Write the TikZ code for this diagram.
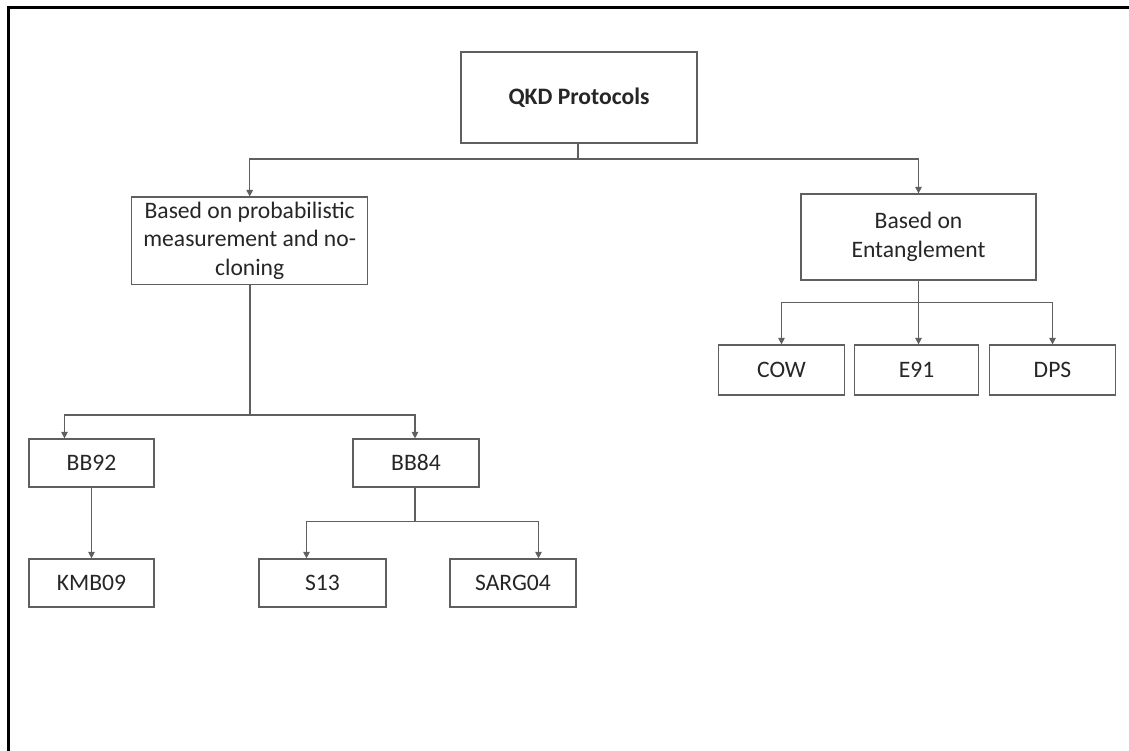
\documentclass[tikz,border=0pt]{standalone}
\usepackage{fontspec}
\setmainfont{Carlito}
\usetikzlibrary{arrows.meta}

\definecolor{linegray}{RGB}{95,95,95}
\definecolor{textgray}{RGB}{38,38,38}

\tikzset{
  box/.style={draw=linegray, line width=1.2pt, rectangle, inner sep=0pt,
    align=center, text=textgray,
    font=\fontsize{23.6}{28.4}\selectfont},
  link/.style={draw=linegray, line width=1.2pt},
  arr/.style={link, -{Triangle[width=6.5pt,length=6.5pt]}},
  frame/.style={draw=black, line width=3pt},
}

\begin{document}
\begin{tikzpicture}[x=1pt,y=-1pt]
  \useasboundingbox (0,0) rectangle (1129,751);

  % page frame (left and top edges)
  \draw[frame] (8,751) -- (8,7.5) -- (1129,7.5);

  % root
  \node[box, minimum width=236pt, minimum height=91pt] (qkd) at (579,97.5)
    {\bfseries QKD Protocols};

  % first level
  \node[box, minimum width=236pt, minimum height=87pt] (prob) at (249.7,240.6)
    {Based on probabilistic\\measurement and no-\\cloning};
  \node[box, minimum width=235pt, minimum height=86pt] (ent) at (918.5,237)
    {Based on\\Entanglement};

  % entanglement family
  \node[box, minimum width=126pt, minimum height=50pt] (cow) at (781.5,370) {COW};
  \node[box, minimum width=124pt, minimum height=50pt] (e91) at (916.5,370) {E91};
  \node[box, minimum width=126pt, minimum height=50pt] (dps) at (1052.5,370) {DPS};

  % probabilistic family
  \node[box, minimum width=125pt, minimum height=48pt] (bb92) at (91.5,463) {BB92};
  \node[box, minimum width=126pt, minimum height=48pt] (bb84) at (416,463) {BB84};
  \node[box, minimum width=125pt, minimum height=48pt] (kmb) at (91.5,583) {KMB09};
  \node[box, minimum width=127pt, minimum height=48pt] (s13) at (322.5,583) {S13};
  \node[box, minimum width=126pt, minimum height=48pt] (sarg) at (513,583) {SARG04};

  % junction points
  \coordinate (j1) at (578,159);
  \coordinate (j2) at (250,415);
  \coordinate (j3) at (415,521.7);
  \coordinate (j4) at (918.5,302.7);

  % root branches
  \draw[link] (qkd.south -| j1) -- (j1);
  \draw[arr] (j1) -| (prob.north);
  \draw[arr] (j1) -| (ent.north);

  % probabilistic branches
  \draw[link] (prob.south -| j2) -- (j2);
  \draw[arr] (j2) -| ([xshift=-27pt]bb92.north);
  \draw[arr] (j2) -| (bb84.north -| j3);
  \draw[arr] (bb92.south) -- (kmb.north);

  % BB84 branches
  \draw[link] (bb84.south -| j3) -- (j3);
  \draw[arr] (j3) -| ([xshift=-16pt]s13.north);
  \draw[arr] (j3) -| ([xshift=25.5pt]sarg.north);

  % entanglement branches
  \draw[link] (ent.south) -- (j4);
  \draw[arr] (j4) -| (cow.north);
  \draw[arr] (j4) -- (j4 |- e91.north);
  \draw[arr] (j4) -| (dps.north);
\end{tikzpicture}
\end{document}
